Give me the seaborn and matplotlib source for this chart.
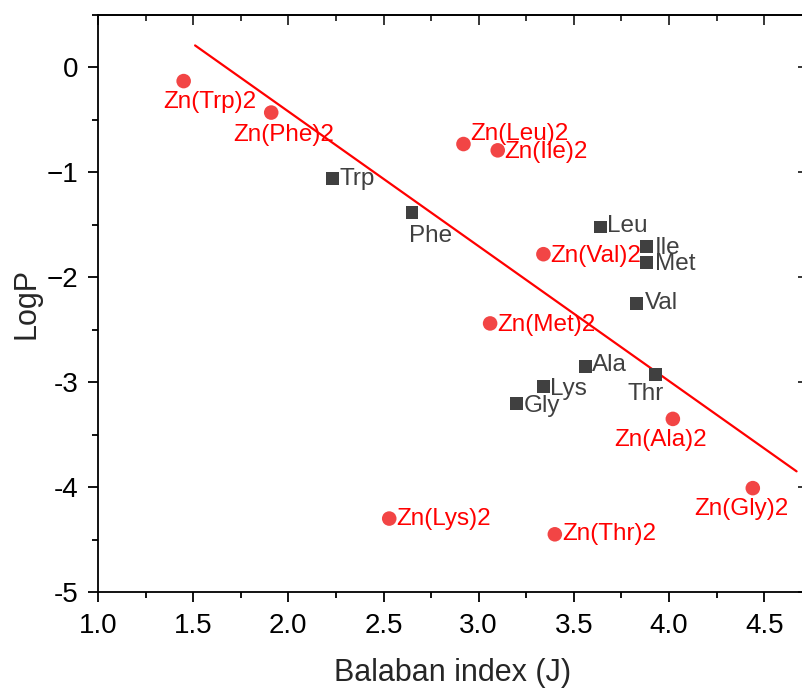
import numpy as np
import pandas as pd
import seaborn as sns
import matplotlib.pyplot as plt
from matplotlib.ticker import MultipleLocator

# free amino acids
aa_names = ['Trp', 'Phe', 'Leu', 'Ile', 'Met', 'Val', 'Ala', 'Thr', 'Lys', 'Gly']
aa_j = [2.23, 2.65, 3.64, 3.88, 3.88, 3.83, 3.56, 3.93, 3.34, 3.20]
aa_logp = [-1.06, -1.38, -1.52, -1.71, -1.86, -2.25, -2.85, -2.93, -3.04, -3.20]

# zinc complexes
zn_names = ['Zn(Trp)2', 'Zn(Phe)2', 'Zn(Leu)2', 'Zn(Ile)2', 'Zn(Val)2',
            'Zn(Met)2', 'Zn(Ala)2', 'Zn(Gly)2', 'Zn(Lys)2', 'Zn(Thr)2']
zn_j = [1.45, 1.91, 2.92, 3.10, 3.34, 3.06, 4.02, 4.44, 2.53, 3.40]
zn_logp = [-0.13, -0.43, -0.73, -0.79, -1.78, -2.44, -3.35, -4.01, -4.30, -4.45]

# trend line end points
line_j = [1.51, 4.67]
line_logp = [0.21, -3.85]

# axis ticks
x_ticks = [1.0, 1.5, 2.0, 2.5, 3.0, 3.5, 4.0, 4.5]
x_tick_labels = ['1.0', '1.5', '2.0', '2.5', '3.0', '3.5', '4.0', '4.5']
y_ticks = [-5, -4, -3, -2, -1, 0]
y_tick_labels = ['-5', '-4', '-3', '\u22122', '\u22121', '0']

# label placement (offset in points, ha, va)
aa_lab = {'Trp': ((5, 0), 'left', 'center'), 'Phe': ((-2, -9), 'left', 'top'),
          'Leu': ((5, 1), 'left', 'center'), 'Ile': ((6, -1), 'left', 'center'),
          'Met': ((6, -1), 'left', 'center'), 'Val': ((6, 0), 'left', 'center'),
          'Ala': ((5, 1), 'left', 'center'), 'Thr': ((-7, -6), 'center', 'top'),
          'Lys': ((5, -2), 'left', 'center'), 'Gly': ((5, -2), 'left', 'center')}
zn_lab = {'Zn(Trp)2': ((19, -7), 'center', 'top'), 'Zn(Phe)2': ((9, -8), 'center', 'top'),
          'Zn(Leu)2': ((5, 7), 'left', 'center'), 'Zn(Ile)2': ((5, -1), 'left', 'center'),
          'Zn(Val)2': ((5, -1), 'left', 'center'), 'Zn(Met)2': ((5, -1), 'left', 'center'),
          'Zn(Ala)2': ((-9, -7), 'center', 'top'), 'Zn(Gly)2': ((-8, -7), 'center', 'top'),
          'Zn(Lys)2': ((5, 0), 'left', 'center'), 'Zn(Thr)2': ((5, 0), 'left', 'center')}

aa_df = pd.DataFrame({'J': aa_j, 'LogP': aa_logp, 'name': aa_names})
zn_df = pd.DataFrame({'J': zn_j, 'LogP': zn_logp, 'name': zn_names})
line_df = pd.DataFrame({'J': line_j, 'LogP': line_logp})

sns.set_style('ticks')
plt.rcParams['font.family'] = ['Liberation Sans', 'DejaVu Sans']

fig = plt.figure(figsize=(8.03, 6.90), dpi=100)
ax = fig.add_axes([98 / 803, 98 / 690, 710 / 803, 577 / 690])

sns.lineplot(data=line_df, x='J', y='LogP', color='#ff0000', lw=1.6, ax=ax)
sns.scatterplot(data=aa_df, x='J', y='LogP', marker='s', s=85, color='#404040',
                edgecolor='none', ax=ax, zorder=3)
sns.scatterplot(data=zn_df, x='J', y='LogP', marker='o', s=110, color='#f24545',
                edgecolor='none', ax=ax, zorder=3)

for n, x, y in zip(aa_names, aa_j, aa_logp):
    off, ha, va = aa_lab[n]
    ax.annotate(n, (x, y), xytext=off, textcoords='offset points', ha=ha, va=va,
                fontsize=17.5, color='#404040')
for n, x, y in zip(zn_names, zn_j, zn_logp):
    off, ha, va = zn_lab[n]
    ax.annotate(n, (x, y), xytext=off, textcoords='offset points', ha=ha, va=va,
                fontsize=17.5, color='#ff0000')

ax.set_xlim(1.0, 4.73)
ax.set_ylim(-5, 0.5)
ax.set_xticks(x_ticks, x_tick_labels)
ax.set_yticks(y_ticks, y_tick_labels)
ax.xaxis.set_minor_locator(MultipleLocator(0.25))
ax.yaxis.set_minor_locator(MultipleLocator(0.5))

for s in ax.spines.values():
    s.set_linewidth(1.3)
    s.set_color('black')
ax.tick_params(which='both', direction='out', width=1.3, colors='black',
               top=False, right=False)
ax.tick_params(which='major', length=7, labelsize=20)
ax.tick_params(which='minor', length=4)
ax.tick_params(axis='x', which='major', pad=8)
ax.tick_params(axis='y', which='major', pad=7)

# top axis: inward ticks, no labels
top = ax.secondary_xaxis('top')
top.set_xticks(x_ticks)
top.xaxis.set_minor_locator(MultipleLocator(0.25))
top.tick_params(which='both', direction='in', width=1.3, labeltop=False)
top.tick_params(which='major', length=7)
top.tick_params(which='minor', length=4)
top.spines['top'].set_linewidth(1.3)

# right axis: inward major ticks only
right = ax.secondary_yaxis('right')
right.set_yticks(y_ticks)
right.tick_params(which='major', direction='in', length=7, width=1.3, labelright=False)
right.tick_params(which='minor', length=0)
right.spines['right'].set_linewidth(1.3)

ax.set_xlabel('Balaban index (J)', fontsize=22, labelpad=14)
ax.set_ylabel('LogP', fontsize=22, labelpad=4)

fig.savefig('out.png', dpi=100)
